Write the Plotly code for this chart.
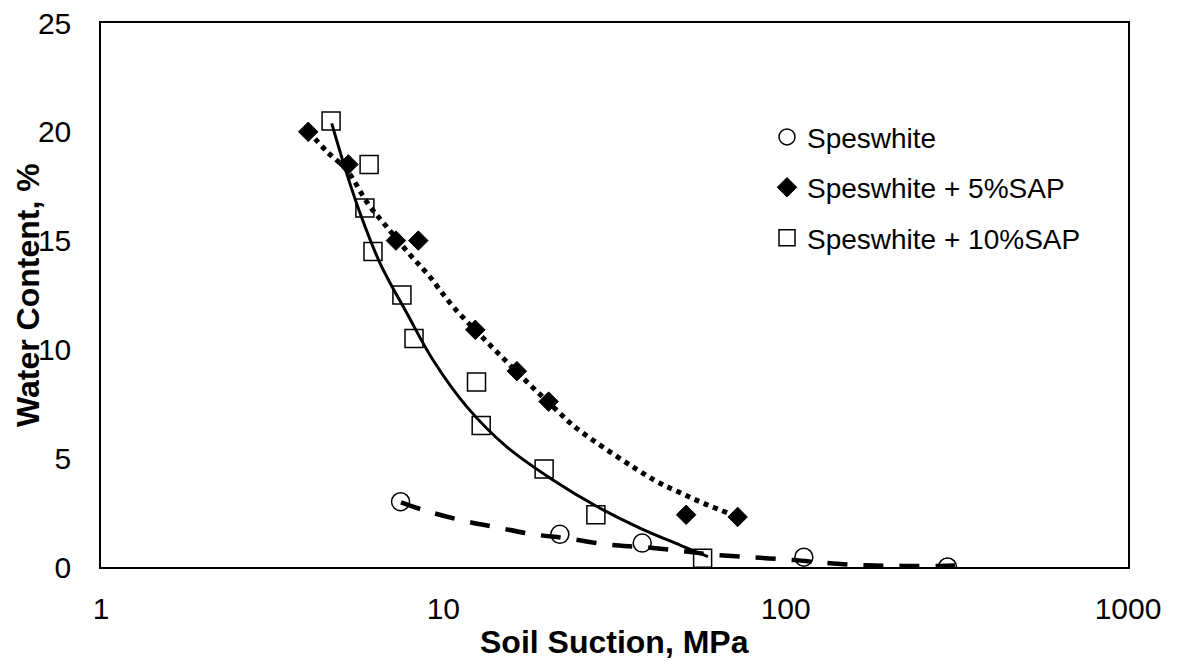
import plotly.graph_objects as go

# Measured points
spes_x = [7.5, 21.9, 38.1, 113, 297]
spes_y = [3.0, 1.5, 1.1, 0.45, 0.0]

sap5_x = [4.03, 5.28, 7.27, 8.45, 12.4, 16.4, 20.3, 51.2, 72.4]
sap5_y = [20.0, 18.5, 15.0, 15.0, 10.9, 9.0, 7.6, 2.4, 2.3]

sap10_x = [4.70, 6.07, 5.90, 6.23, 7.57, 8.21, 12.5, 12.9, 19.7, 27.9, 57.2]
sap10_y = [20.5, 18.5, 16.5, 14.5, 12.5, 10.5, 8.5, 6.5, 4.5, 2.4, 0.4]

# Trend curves
spes_trend_x = [7.52, 8.74, 11.19, 14.32, 18.33, 22.93, 30.0, 38.4, 49.1, 60.1, 78.7, 105.3, 134.8, 172.5, 220.6, 282.4, 334]
spes_trend_y = [2.97, 2.62, 2.16, 1.82, 1.50, 1.32, 1.04, 0.91, 0.75, 0.58, 0.45, 0.32, 0.17, 0.08, 0.05, 0.05, 0.09]

sap5_trend_x = [4.03, 4.57, 5.22, 6.04, 6.76, 8.00, 9.04, 10.69, 13.69, 17.52, 21.43, 24.53, 41.5, 48.5, 57.5, 72.4]
sap5_trend_y = [20.04, 19.09, 18.24, 16.67, 15.72, 14.34, 13.42, 11.96, 10.20, 8.52, 7.21, 6.37, 3.98, 3.46, 2.93, 2.31]

sap10_trend_x = [4.72, 5.22, 5.71, 6.53, 7.82, 9.33, 11.70, 15.35, 20.9, 28.1, 37.5, 49.1, 59.3]
sap10_trend_y = [20.39, 18.09, 16.27, 13.97, 11.67, 9.51, 7.37, 5.51, 4.00, 2.78, 1.79, 1.01, 0.48]

names = ["Speswhite", "Speswhite + 5%SAP", "Speswhite + 10%SAP"]

x_ticks = [1, 10, 100, 1000]
y_ticks = [0, 5, 10, 15, 20, 25]

x_title = "Soil Suction, MPa"
y_title = "Water Content, %"

FONT = "Liberation Sans, Arial, sans-serif"

fig = go.Figure()

# markers (drawn first, trendlines on top)
fig.add_trace(go.Scatter(x=spes_x, y=spes_y, mode="markers", name=names[0],
                         marker=dict(symbol="circle", size=18, color="white",
                                     line=dict(color="black", width=1.5)),
                         showlegend=True, legendgroup="a"))
fig.add_trace(go.Scatter(x=sap5_x, y=sap5_y, mode="markers", name=names[1],
                         marker=dict(symbol="diamond", size=15, color="black",
                                     line=dict(color="black", width=1)),
                         showlegend=True, legendgroup="b"))
fig.add_trace(go.Scatter(x=sap10_x, y=sap10_y, mode="markers", name=names[2],
                         marker=dict(symbol="square", size=18, color="white",
                                     line=dict(color="black", width=1.5)),
                         showlegend=True, legendgroup="c"))

# trend lines
fig.add_trace(go.Scatter(x=spes_trend_x, y=spes_trend_y, mode="lines",
                         line=dict(color="black", width=4.5, dash="20px,16px", shape="spline"),
                         showlegend=False, hoverinfo="skip"))
fig.add_trace(go.Scatter(x=sap5_trend_x, y=sap5_trend_y, mode="lines",
                         line=dict(color="black", width=5, dash="5px,5px", shape="spline"),
                         showlegend=False, hoverinfo="skip"))
fig.add_trace(go.Scatter(x=sap10_trend_x, y=sap10_trend_y, mode="lines",
                         line=dict(color="black", width=3, shape="spline"),
                         showlegend=False, hoverinfo="skip"))

fig.update_layout(
    width=1178, height=664,
    margin=dict(l=101, r=50, t=23, b=97, autoexpand=False),
    paper_bgcolor="white", plot_bgcolor="white",
    font=dict(family=FONT, size=30, color="black"),
    showlegend=True,
    legend=dict(x=0.6485, y=0.836, xanchor="left", yanchor="top",
                bgcolor="rgba(0,0,0,0)", borderwidth=0,
                font=dict(family=FONT, size=28, color="black"),
                traceorder="grouped", tracegroupgap=11, itemwidth=30),
    xaxis=dict(type="log", range=[0, 3], tickvals=x_ticks,
               ticktext=[str(v) for v in x_ticks],
               showgrid=False, zeroline=False, showline=True, mirror=True,
               linecolor="black", linewidth=1.5, ticks="", automargin=False,
               tickfont=dict(size=30), ticklabelstandoff=14),
    yaxis=dict(range=[0, 25], tickvals=y_ticks,
               showgrid=False, zeroline=False, showline=True, mirror=True,
               linecolor="black", linewidth=1.5, ticks="", automargin=False,
               tickfont=dict(size=30), ticklabelstandoff=22),
    annotations=[
        dict(text="<b>" + x_title + "</b>", xref="paper", yref="paper",
             x=0.5, y=0, xanchor="center", yanchor="middle", yshift=-75,
             showarrow=False, font=dict(family=FONT, size=32, color="black")),
        dict(text="<b>" + y_title + "</b>", xref="paper", yref="paper",
             x=0, y=0.5, xanchor="center", yanchor="middle", xshift=-73,
             textangle=-90, showarrow=False,
             font=dict(family=FONT, size=32, color="black")),
    ],
)

fig.write_html("out.html")
